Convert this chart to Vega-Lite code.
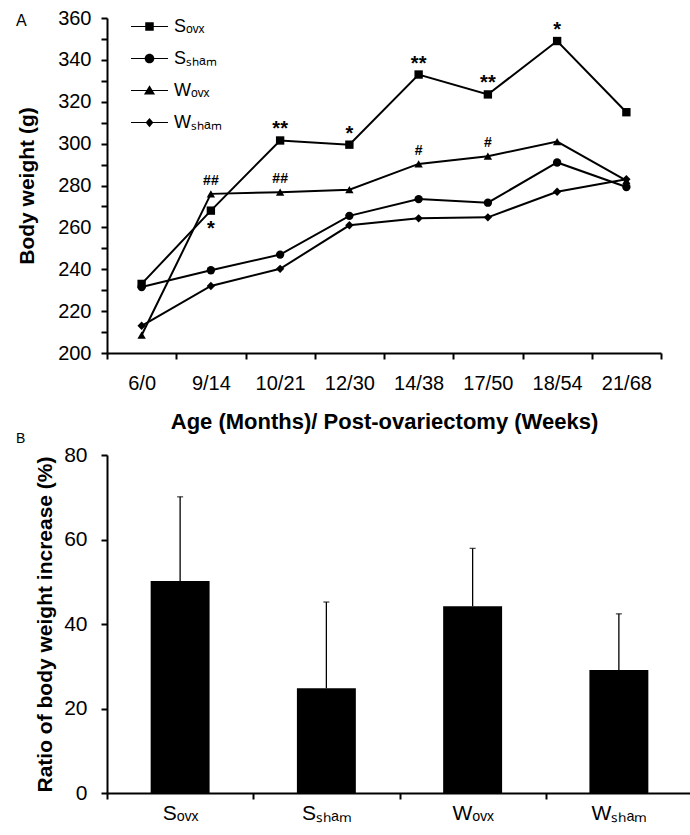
{
  "$schema": "https://vega.github.io/schema/vega-lite/v6.json",
  "padding": {"left": 16, "top": 8, "right": 0, "bottom": 0},
  "bounds": "flush",
  "spacing": 102,
  "config": {
    "font": "Liberation Sans",
    "view": {"stroke": null},
    "legend": {"rowPadding": 4},
    "axis": {"domainColor": "black", "domainWidth": 2, "tickColor": "black", "tickWidth": 2, "tickSize": 6, "labelColor": "black", "titleColor": "black", "grid": false, "labelFont": "Liberation Sans", "titleFont": "Liberation Sans", "titleFontWeight": "bold", "labelOverlap": false}
  },
  "vconcat": [
    {
      "width": 554,
      "height": 335,
      "title": {"text": "A", "anchor": "start", "frame": "group", "fontSize": 16, "fontWeight": "normal", "color": "black", "offset": 0, "dx": -91, "dy": 21},
      "data": {"values": [
        {"age": "6/0", "group": "Sₒᵥₓ", "weight": 233},
        {"age": "9/14", "group": "Sₒᵥₓ", "weight": 268, "starBelow": "*"},
        {"age": "10/21", "group": "Sₒᵥₓ", "weight": 301.5, "star": "**"},
        {"age": "12/30", "group": "Sₒᵥₓ", "weight": 299.5, "star": "*"},
        {"age": "14/38", "group": "Sₒᵥₓ", "weight": 333, "star": "**"},
        {"age": "17/50", "group": "Sₒᵥₓ", "weight": 323.5, "star": "**"},
        {"age": "18/54", "group": "Sₒᵥₓ", "weight": 349, "star": "*"},
        {"age": "21/68", "group": "Sₒᵥₓ", "weight": 315},
        {"age": "6/0", "group": "Sₛₕₐₘ", "weight": 231.5},
        {"age": "9/14", "group": "Sₛₕₐₘ", "weight": 239.5},
        {"age": "10/21", "group": "Sₛₕₐₘ", "weight": 247},
        {"age": "12/30", "group": "Sₛₕₐₘ", "weight": 265.5},
        {"age": "14/38", "group": "Sₛₕₐₘ", "weight": 273.5},
        {"age": "17/50", "group": "Sₛₕₐₘ", "weight": 271.8},
        {"age": "18/54", "group": "Sₛₕₐₘ", "weight": 291},
        {"age": "21/68", "group": "Sₛₕₐₘ", "weight": 279.3},
        {"age": "6/0", "group": "Wₒᵥₓ", "weight": 208.5},
        {"age": "9/14", "group": "Wₒᵥₓ", "weight": 276, "hash": "##"},
        {"age": "10/21", "group": "Wₒᵥₓ", "weight": 276.8, "hash": "##"},
        {"age": "12/30", "group": "Wₒᵥₓ", "weight": 278},
        {"age": "14/38", "group": "Wₒᵥₓ", "weight": 290.3, "hash": "#"},
        {"age": "17/50", "group": "Wₒᵥₓ", "weight": 294, "hash": "#"},
        {"age": "18/54", "group": "Wₒᵥₓ", "weight": 301},
        {"age": "21/68", "group": "Wₒᵥₓ", "weight": 282.3},
        {"age": "6/0", "group": "Wₛₕₐₘ", "weight": 213},
        {"age": "9/14", "group": "Wₛₕₐₘ", "weight": 232},
        {"age": "10/21", "group": "Wₛₕₐₘ", "weight": 240.2},
        {"age": "12/30", "group": "Wₛₕₐₘ", "weight": 261},
        {"age": "14/38", "group": "Wₛₕₐₘ", "weight": 264.3},
        {"age": "17/50", "group": "Wₛₕₐₘ", "weight": 264.8},
        {"age": "18/54", "group": "Wₛₕₐₘ", "weight": 277},
        {"age": "21/68", "group": "Wₛₕₐₘ", "weight": 283}
      ]},
      "encoding": {
        "x": {"field": "age", "type": "ordinal", "bandPosition": 0.5,
          "sort": ["6/0", "9/14", "10/21", "12/30", "14/38", "17/50", "18/54", "21/68"],
          "scale": {"type": "band", "paddingInner": 0, "paddingOuter": 0},
          "axis": {"title": "Age (Months)/ Post-ovariectomy (Weeks)", "labelAngle": 0, "tickBand": "extent", "labelFontSize": 20, "titleFontSize": 22, "labelPadding": 14, "titlePadding": 18}},
        "y": {"field": "weight", "type": "quantitative",
          "scale": {"domain": [200, 360], "nice": false, "zero": false},
          "axis": {"title": "Body weight (g)", "values": [200, 210, 220, 230, 240, 250, 260, 270, 280, 290, 300, 310, 320, 330, 340, 350, 360], "labelExpr": "datum.value % 20 === 0 ? datum.label : ''", "labelFontSize": 20, "titleFontSize": 21, "labelPadding": 10, "titlePadding": 20}}
      },
      "layer": [
        {"mark": {"type": "line", "color": "black", "strokeWidth": 2}, "encoding": {"detail": {"field": "group"}}},
        {"mark": {"type": "point", "filled": true, "color": "black", "opacity": 1, "size": 70},
          "encoding": {"shape": {"field": "group", "type": "nominal", "scale": {"domain": ["Sₒᵥₓ", "Sₛₕₐₘ", "Wₒᵥₓ", "Wₛₕₐₘ"], "range": ["square", "circle", "triangle-up", "diamond"]}, "legend": null}}},
        {"mark": {"type": "point", "filled": true, "color": "black", "size": 0},
          "encoding": {"shape": {"field": "group", "type": "nominal",
            "scale": {"domain": ["Sₒᵥₓ", "Sₛₕₐₘ", "Wₒᵥₓ", "Wₛₕₐₘ"], "range": [
              "M-1,-0.03H1V0.03H-1ZM-0.23,-0.23H0.23V0.23H-0.23Z",
              "M-1,-0.03H1V0.03H-1ZM-0.26,0A0.26,0.26 0 1,1 0.26,0A0.26,0.26 0 1,1 -0.26,0Z",
              "M-1,-0.03H1V0.03H-1ZM0,-0.28L0.3,0.22H-0.3Z",
              "M-1,-0.03H1V0.03H-1ZM0,-0.25L0.21,0L0,0.25L-0.21,0Z"]},
            "legend": {"title": null, "orient": "none", "legendX": 24, "legendY": -10, "padding": 0, "symbolSize": 1369, "symbolStrokeWidth": 0, "symbolFillColor": "black", "symbolOpacity": 1, "labelFontSize": 18, "labelOffset": 6, "rowPadding": 4, "labelColor": "black", "labelFont": "Liberation Sans"}}}},
        {"transform": [{"filter": "datum.star"}], "mark": {"type": "text", "baseline": "alphabetic", "dy": -5, "fontSize": 20, "fontWeight": "bold", "color": "black"}, "encoding": {"text": {"field": "star"}}},
        {"transform": [{"filter": "datum.starBelow"}], "mark": {"type": "text", "baseline": "alphabetic", "dy": 24, "fontSize": 20, "fontWeight": "bold", "color": "black"}, "encoding": {"text": {"field": "starBelow"}}},
        {"transform": [{"filter": "datum.hash"}], "mark": {"type": "text", "baseline": "alphabetic", "dy": -9, "fontSize": 14, "fontWeight": "bold", "color": "black"}, "encoding": {"text": {"field": "hash"}}}
      ],
      "resolve": {"scale": {"shape": "independent"}}
    },
    {
      "width": 585,
      "height": 338,
      "title": {"text": "B", "anchor": "start", "frame": "group", "fontSize": 14, "fontWeight": "normal", "color": "black", "offset": 0, "dx": -91, "dy": 2},
      "data": {"values": [
        {"group": "Sₒᵥₓ", "ratio": 50.2, "upper": 70.1},
        {"group": "Sₛₕₐₘ", "ratio": 24.8, "upper": 45.2},
        {"group": "Wₒᵥₓ", "ratio": 44.2, "upper": 57.9},
        {"group": "Wₛₕₐₘ", "ratio": 29.1, "upper": 42.4}
      ]},
      "encoding": {
        "x": {"field": "group", "type": "nominal", "sort": ["Sₒᵥₓ", "Sₛₕₐₘ", "Wₒᵥₓ", "Wₛₕₐₘ"],
          "scale": {"type": "band", "paddingInner": 0, "paddingOuter": 0},
          "axis": {"title": null, "labelAngle": 0, "tickBand": "extent", "labelFontSize": 21, "labelPadding": 3}}
      },
      "layer": [
        {"mark": {"type": "bar", "color": "black", "width": {"band": 0.403}},
          "encoding": {"y": {"field": "ratio", "type": "quantitative", "scale": {"domain": [0, 80], "nice": false},
            "axis": {"title": "Ratio of body weight increase (%)", "values": [0, 20, 40, 60, 80], "labelFontSize": 21, "titleFontSize": 21, "labelPadding": 14, "titlePadding": 8}}}},
        {"mark": {"type": "rule", "color": "black", "strokeWidth": 1.3},
          "encoding": {"y": {"field": "ratio", "type": "quantitative"}, "y2": {"field": "upper"}}},
        {"mark": {"type": "tick", "color": "black", "size": 6, "thickness": 1.3, "orient": "horizontal"},
          "encoding": {"y": {"field": "upper", "type": "quantitative"}}}
      ]
    }
  ]
}
